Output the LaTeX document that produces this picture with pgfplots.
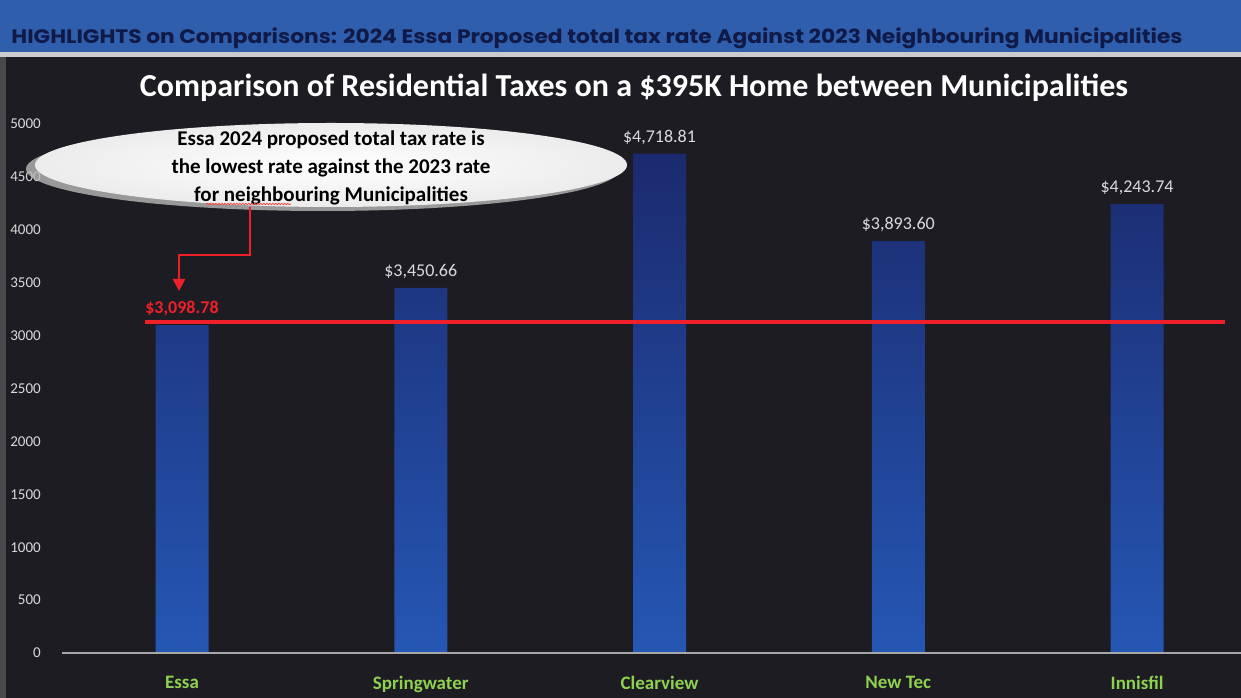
\documentclass[border=0pt]{standalone}
\usepackage{pgfplots}
\pgfplotsset{compat=1.18}
\usepackage{fontspec}
\setmainfont{Carlito}
\newfontfamily\bannerfont{Poppins}
\usetikzlibrary{arrows.meta,shadows,decorations.pathmorphing}
\definecolor{bgdark}{HTML}{1C1C22}
\definecolor{bannerblue}{HTML}{2F5EAC}
\definecolor{bannertext}{HTML}{101A48}
\definecolor{bartop}{HTML}{1B2A6E}
\definecolor{barbot}{HTML}{2557B4}
\definecolor{catgreen}{HTML}{8FD14F}
\definecolor{lblgray}{HTML}{DADADA}
\definecolor{redline}{HTML}{F0202A}
\begin{document}
\begin{tikzpicture}
\useasboundingbox (0,0) rectangle (1241bp,698bp);
\fill[bgdark] (0,0) rectangle (1241bp,698bp);
\fill[bannerblue] (0,646bp) rectangle (1241bp,698bp);
\fill[gray!40] (0,641bp) rectangle (1241bp,646bp);
\fill[gray!45!bgdark] (0,0) rectangle (6bp,641bp);
\node[text=bannertext, inner sep=0] at (597bp,660bp) {\resizebox*{1171bp}{21bp}{\bannerfont\bfseries HIGHLIGHTS on Comparisons: 2024 Essa Proposed total tax rate Against 2023 Neighbouring Municipalities}};
\node[text=white, inner sep=0] at (634bp,610bp) {\resizebox{988bp}{!}{\bfseries Comparison of Residential Taxes on a \$395K Home between Municipalities}};
\begin{axis}[
  at={(62bp,45bp)}, anchor=south west, scale only axis,
  width=1179bp, height=529bp,
  xmin=-0.5026, xmax=4.4356, ymin=0, ymax=5000,
  axis line style={draw=none},
  xtick={0,1,2,3,4},
  xticklabels={Essa,Springwater,Clearview,New Tec,Innisfil},
  xticklabel style={text=catgreen, font=\fontsize{19bp}{21bp}\selectfont\bfseries, yshift=-20bp},
  ytick={0,500,...,5000},
  yticklabel style={text=lblgray, font=\fontsize{15bp}{17bp}\selectfont, inner sep=0, xshift=-21bp},
  /pgf/number format/assume math mode=true,
  /pgf/number format/1000 sep={},
  major tick length=0,
  ybar, bar width=53bp,
  point meta=explicit symbolic,
  nodes near coords,
  every node near coord/.append style={text=lblgray, font=\fontsize{18bp}{20bp}\selectfont, inner sep=0, yshift=9bp},
  clip=false,
]
\addplot[draw=none, top color=bartop, bottom color=barbot] coordinates {
  (0,3098.78) [\textcolor{redline}{\bfseries\$3,098.78}]
  (1,3450.66) [\$3,450.66]
  (2,4718.81) [\$4,718.81]
  (3,3893.60) [\$3,893.60]
  (4,4243.74) [\$4,243.74]
};
\draw[gray!70, line width=1.3pt] (axis cs:-0.5026,0) -- (axis cs:4.4356,0);
\end{axis}
\begin{axis}[
  at={(62bp,45bp)}, anchor=south west, scale only axis,
  width=1179bp, height=529bp,
  xmin=-0.5026, xmax=4.4356, ymin=0, ymax=5000,
  hide axis, clip=false,
]
\addplot[redline, line width=4.5bp] coordinates {(-0.155,3129) (4.37,3129)};
\end{axis}
% callout
\fill[gray!55, opacity=0.8] (323bp,529bp) ellipse (297bp and 42bp);
\shade[inner color=white, outer color=gray!15] (331bp,533bp) ellipse (296bp and 42bp);
\node[align=center, text=black, inner sep=0, font=\fontsize{21bp}{28bp}\selectfont\bfseries] at (331bp,530bp) {Essa 2024 proposed total tax rate is\\the lowest rate against the 2023 rate\\for neighbouring Municipalities};
\draw[red!75, line width=0.7pt, decorate, decoration={snake, amplitude=0.8bp, segment length=3bp}] (206bp,494bp) -- (291bp,494bp);
\draw[redline, line width=2.5bp, -{Triangle[length=12bp,width=12bp]}] (250bp,491bp) -- (250bp,443bp) -- (179bp,443bp) -- (179bp,407bp);
\end{tikzpicture}
\end{document}
